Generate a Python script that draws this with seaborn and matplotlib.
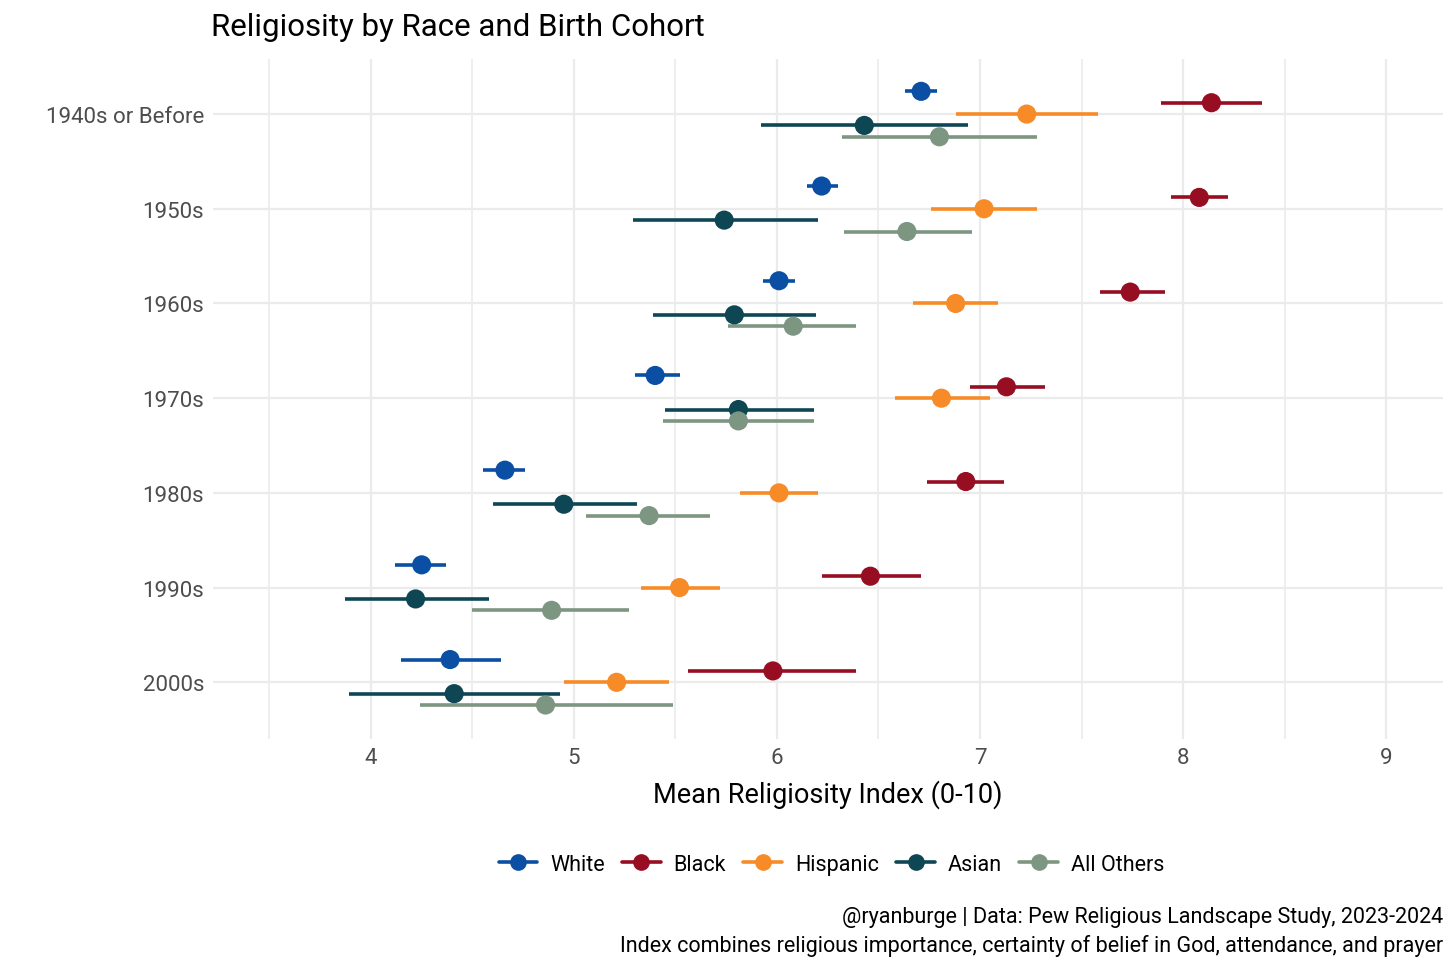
import numpy as np
import pandas as pd
import matplotlib
matplotlib.use("Agg")
import matplotlib.pyplot as plt
import seaborn as sns
from matplotlib.ticker import MultipleLocator
from matplotlib.lines import Line2D

cohorts = ["1940s or Before", "1950s", "1960s", "1970s", "1980s", "1990s", "2000s"]
races = ["White", "Black", "Hispanic", "Asian", "All Others"]
colors = ["#0A4FA3", "#970D22", "#F68B28", "#0E4654", "#7D9682"]

white_mean = [6.71, 6.22, 6.01, 5.40, 4.66, 4.25, 4.39]
white_lo = [6.63, 6.15, 5.93, 5.30, 4.55, 4.12, 4.15]
white_hi = [6.79, 6.30, 6.09, 5.52, 4.76, 4.37, 4.64]

black_mean = [8.14, 8.08, 7.74, 7.13, 6.93, 6.46, 5.98]
black_lo = [7.89, 7.94, 7.59, 6.95, 6.74, 6.22, 5.56]
black_hi = [8.39, 8.22, 7.91, 7.32, 7.12, 6.71, 6.39]

hisp_mean = [7.23, 7.02, 6.88, 6.81, 6.01, 5.52, 5.21]
hisp_lo = [6.88, 6.76, 6.67, 6.58, 5.82, 5.33, 4.95]
hisp_hi = [7.58, 7.28, 7.09, 7.05, 6.20, 5.72, 5.47]

asian_mean = [6.43, 5.74, 5.79, 5.81, 4.95, 4.22, 4.41]
asian_lo = [5.92, 5.29, 5.39, 5.45, 4.60, 3.87, 3.89]
asian_hi = [6.94, 6.20, 6.19, 6.18, 5.31, 4.58, 4.93]

other_mean = [6.80, 6.64, 6.08, 5.81, 5.37, 4.89, 4.86]
other_lo = [6.32, 6.33, 5.76, 5.44, 5.06, 4.50, 4.24]
other_hi = [7.28, 6.96, 6.39, 6.18, 5.67, 5.27, 5.49]

rows = []
series = [
    (white_mean, white_lo, white_hi),
    (black_mean, black_lo, black_hi),
    (hisp_mean, hisp_lo, hisp_hi),
    (asian_mean, asian_lo, asian_hi),
    (other_mean, other_lo, other_hi),
]
for race, (m, lo, hi) in zip(races, series):
    for i, c in enumerate(cohorts):
        rows.append({"cohort": c, "race": race, "mean": m[i], "lo": lo[i], "hi": hi[i]})
df = pd.DataFrame(rows)

# dodge each race around the cohort position
offsets = dict(zip(races, np.linspace(-0.24, 0.24, len(races))))
df["y"] = df["cohort"].map({c: i for i, c in enumerate(cohorts)}) + df["race"].map(offsets)

sns.set_theme(style="whitegrid")
plt.rcParams["font.family"] = ["Roboto", "DejaVu Sans"]
plt.rcParams["font.weight"] = "normal"
plt.rcParams["text.color"] = "black"

fig, ax = plt.subplots(figsize=(14.56, 9.70), dpi=100)
fig.subplots_adjust(left=0.146, right=0.991, top=0.938, bottom=0.237)

palette = dict(zip(races, colors))
for race in races:
    d = df[df["race"] == race]
    ax.hlines(d["y"], d["lo"], d["hi"], color=palette[race], lw=2.6, zorder=2)
sns.scatterplot(data=df, x="mean", y="y", hue="race", palette=palette,
                s=190, edgecolor="none", legend=False, zorder=3, ax=ax)

ax.set_xlim(3.22, 9.28)
ax.set_ylim(6.6, -0.58)
ax.set_yticks(range(len(cohorts)))
ax.set_yticklabels(cohorts)
ax.xaxis.set_major_locator(MultipleLocator(1))
ax.xaxis.set_minor_locator(MultipleLocator(0.5))
ax.grid(True, which="major", color="#EBEBEB", lw=1.6)
ax.grid(True, which="minor", axis="x", color="#EBEBEB", lw=1.2)
ax.set_axisbelow(True)
for s in ax.spines.values():
    s.set_visible(False)
ax.tick_params(axis="both", which="both", length=0, labelsize=16, labelcolor="#4D4D4D", pad=6)

ax.set_xlabel("Mean Religiosity Index (0-10)", fontsize=19.5, color="black", labelpad=8)
ax.set_ylabel("")
fig.text(0.145, 0.972, "Religiosity by Race and Birth Cohort", fontsize=22.5,
         va="center", ha="left", color="black")

handles = [Line2D([0], [0], color=c, lw=2.6, marker="o", markersize=11) for c in colors]
fig.legend(handles, races, loc="center", bbox_to_anchor=(0.571, 0.108), ncol=5, frameon=False,
           fontsize=15.5, handlelength=1.8, columnspacing=0.8, handletextpad=0.6,
           labelcolor="black")

fig.text(0.991, 0.054, "@ryanburge | Data: Pew Religious Landscape Study, 2023-2024",
         ha="right", va="center", fontsize=15.5, color="black")
fig.text(0.991, 0.025, "Index combines religious importance, certainty of belief in God, attendance, and prayer",
         ha="right", va="center", fontsize=15.5, color="black")

fig.savefig("out.png", dpi=100, facecolor="white")
